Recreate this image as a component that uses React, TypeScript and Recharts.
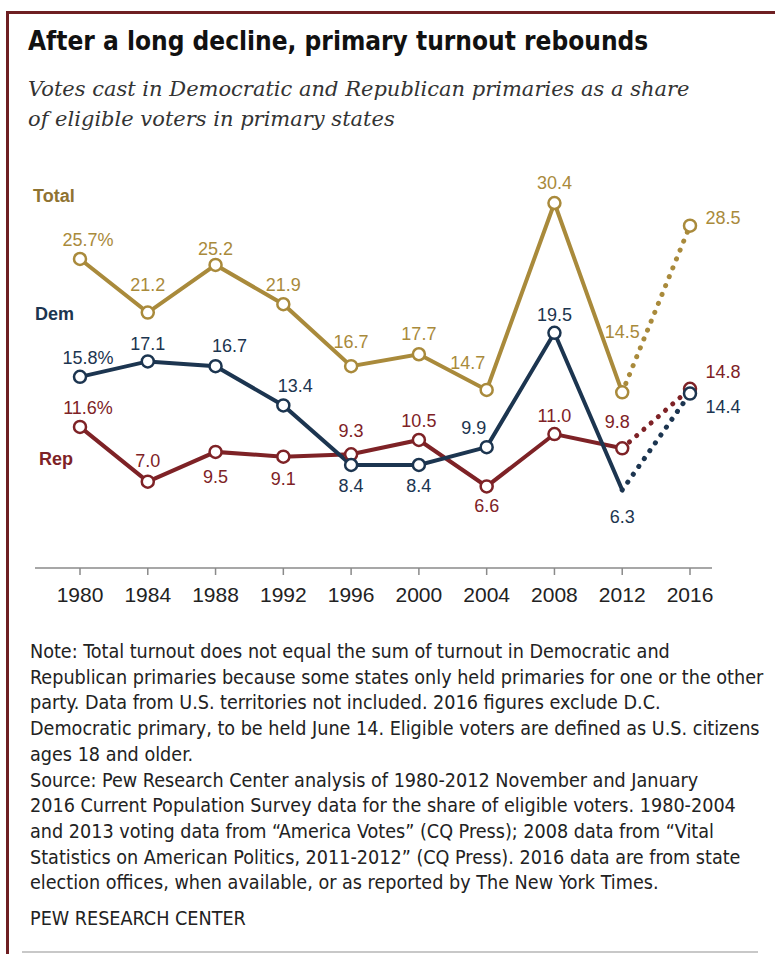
import React from "react";
import { LineChart, Line, XAxis, YAxis } from "recharts";

const YEARS = [1980, 1984, 1988, 1992, 1996, 2000, 2004, 2008, 2012, 2016];
const TOTAL = [25.7, 21.2, 25.2, 21.9, 16.7, 17.7, 14.7, 30.4, 14.5, 28.5];
const DEM = [15.8, 17.1, 16.7, 13.4, 8.4, 8.4, 9.9, 19.5, 6.3, 14.4];
const REP = [11.6, 7.0, 9.5, 9.1, 9.3, 10.5, 6.6, 11.0, 9.8, 14.8];
const LAST_ACTUAL = 2012;

// label offsets from each point (dx, dy), matching the hand placed labels
const TOTAL_LABEL_POS = [[8, -19], [0, -28], [0, -16], [0, -19], [0, -24], [0, -20], [-19, -27], [0, -20], [0, -60], [33, -8]];
const DEM_LABEL_POS = [[8, -19], [0, -17], [14, -20], [12, -19], [0, 21], [0, 21], [-13, -19], [0, -18], [0, 27], [33, 13]];
const REP_LABEL_POS = [[8, -19], [0, -21], [0, 25], [0, 22], [0, -23], [0, -19], [0, 20], [0, -18], [-5, -26], [33, -17]];

const NOTE_LINES = [
  "Note: Total turnout does not equal the sum of turnout in Democratic and",
  "Republican primaries because some states only held primaries for one or the other",
  "party. Data from U.S. territories not included. 2016 figures exclude D.C.",
  "Democratic primary, to be held June 14. Eligible voters are defined as U.S. citizens",
  "ages 18 and older.",
  "Source: Pew Research Center analysis of 1980-2012 November and January",
  "2016 Current Population Survey data for the share of eligible voters. 1980-2004",
  "and 2013 voting data from \u201cAmerica Votes\u201d (CQ Press); 2008 data from \u201cVital",
  "Statistics on American Politics, 2011-2012\u201d (CQ Press). 2016 data are from state",
  "election offices, when available, or as reported by The New York Times.",
];

const GOLD = "#a98a3b";
const NAVY = "#1c3550";
const RED = "#7e2226";
const SANS = "'Liberation Sans', Arial, sans-serif";
const NARROW = "'Liberation Sans Narrow', 'DejaVu Sans Condensed', sans-serif";

const data = YEARS.map((year, i) => ({
  year,
  total: year <= LAST_ACTUAL ? TOTAL[i] : null,
  totalProj: year >= LAST_ACTUAL ? TOTAL[i] : null,
  dem: year <= LAST_ACTUAL ? DEM[i] : null,
  demProj: year >= LAST_ACTUAL ? DEM[i] : null,
  rep: year <= LAST_ACTUAL ? REP[i] : null,
  repProj: year >= LAST_ACTUAL ? REP[i] : null,
}));

function makeDot(color: string, show: (i: number) => boolean) {
  return (p: any) => {
    if (!show(p.index) || p.cy == null) return <g key={p.index} />;
    return <circle key={p.index} cx={p.cx} cy={p.cy} r={6} fill="#fff" stroke={color} strokeWidth={2.5} />;
  };
}

function makeLabel(color: string, pos: number[][], show: (i: number) => boolean) {
  return (p: any) => {
    if (!show(p.index) || p.value == null) return <g key={p.index} />;
    const [dx, dy] = pos[p.index];
    const txt = p.index === 0 ? `${Number(p.value).toFixed(1)}%` : Number(p.value).toFixed(1);
    return (
      <text key={p.index} x={p.x + dx} y={p.y + dy} fill={color} fontSize={18} fontFamily={SANS}
        textAnchor="middle" dominantBaseline="central">{txt}</text>
    );
  };
}

const actual = (i: number) => i < YEARS.length - 1;
const proj = (i: number) => i === YEARS.length - 1;

export default function App() {
  return (
    <div style={{ position: "absolute", left: 0, top: 0, width: 775, height: 954, background: "#fff", overflow: "hidden" }}>
      {/* frame */}
      <div style={{ position: "absolute", left: 6, top: 11, width: 769, height: 2.5, background: "#6e1f22" }} />
      <div style={{ position: "absolute", left: 6, top: 11, width: 2.5, height: 943, background: "#6e1f22" }} />
      <div style={{ position: "absolute", left: 22, top: 951, width: 736, height: 1.5, background: "#c8c8c8" }} />

      <div style={{ position: "absolute", left: 28, top: 26, fontFamily: NARROW, fontWeight: 700, fontSize: 26, color: "#111", whiteSpace: "nowrap" }}>
        After a long decline, primary turnout rebounds
      </div>
      <div style={{ position: "absolute", left: 28, top: 74, fontFamily: "'DejaVu Serif', serif", fontStyle: "italic", fontSize: 21, lineHeight: "30px", color: "#333", whiteSpace: "nowrap" }}>
        Votes cast in Democratic and Republican primaries as a share<br />of eligible voters in primary states
      </div>

      <div style={{ position: "absolute", left: 33, top: 186, fontFamily: SANS, fontWeight: 700, fontSize: 18, color: "#8f7331" }}>Total</div>
      <div style={{ position: "absolute", left: 35, top: 304, fontFamily: SANS, fontWeight: 700, fontSize: 18, color: NAVY }}>Dem</div>
      <div style={{ position: "absolute", left: 39, top: 449, fontFamily: SANS, fontWeight: 700, fontSize: 18, color: RED }}>Rep</div>

      <div style={{ position: "absolute", left: 0, top: 0 }}>
        <LineChart width={775} height={620} data={data} margin={{ top: 148, right: 63, bottom: 22, left: 35 }}>
          <XAxis dataKey="year" type="number" domain={[1980, 2016]} ticks={YEARS} padding={{ left: 45, right: 22 }}
            height={30}
            axisLine={{ stroke: "#8a8a8a", strokeWidth: 1.5 }} tickLine={{ stroke: "#8a8a8a", strokeWidth: 1.5 }}
            tickSize={7} tickMargin={12} interval={0}
            tick={{ fill: "#222", fontSize: 21, fontFamily: SANS }} />
          <YAxis hide domain={[-0.25, 35.02]} />

          <Line dataKey="rep" stroke={RED} strokeWidth={4} isAnimationActive={false} connectNulls={false}
            dot={makeDot(RED, actual)} activeDot={false} label={makeLabel(RED, REP_LABEL_POS, actual)} />
          <Line dataKey="repProj" stroke={RED} strokeWidth={5} strokeDasharray="0.1 9.5" strokeLinecap="round" isAnimationActive={false}
            dot={makeDot(RED, proj)} activeDot={false} label={makeLabel(RED, REP_LABEL_POS, proj)} />

          <Line dataKey="dem" stroke={NAVY} strokeWidth={4} isAnimationActive={false}
            dot={makeDot(NAVY, (i) => actual(i) && i !== YEARS.length - 2)} activeDot={false} label={makeLabel(NAVY, DEM_LABEL_POS, actual)} />
          <Line dataKey="demProj" stroke={NAVY} strokeWidth={5} strokeDasharray="0.1 9.5" strokeLinecap="round" isAnimationActive={false}
            dot={makeDot(NAVY, proj)} activeDot={false} label={makeLabel(NAVY, DEM_LABEL_POS, proj)} />

          <Line dataKey="total" stroke={GOLD} strokeWidth={4} isAnimationActive={false}
            dot={makeDot(GOLD, actual)} activeDot={false} label={makeLabel(GOLD, TOTAL_LABEL_POS, actual)} />
          <Line dataKey="totalProj" stroke={GOLD} strokeWidth={5} strokeDasharray="0.1 9.5" strokeLinecap="round" isAnimationActive={false}
            dot={makeDot(GOLD, proj)} activeDot={false} label={makeLabel(GOLD, TOTAL_LABEL_POS, proj)} />
        </LineChart>
      </div>

      <div style={{ position: "absolute", left: 30, top: 639, fontFamily: NARROW, fontSize: 19.6, lineHeight: "25.7px", color: "#222", whiteSpace: "nowrap" }}>
        {NOTE_LINES.map((l) => <div key={l}>{l}</div>)}
      </div>
      <div style={{ position: "absolute", left: 30, top: 907, fontFamily: NARROW, fontSize: 19.6, color: "#222", whiteSpace: "nowrap" }}>
        PEW RESEARCH CENTER
      </div>
    </div>
  );
}
